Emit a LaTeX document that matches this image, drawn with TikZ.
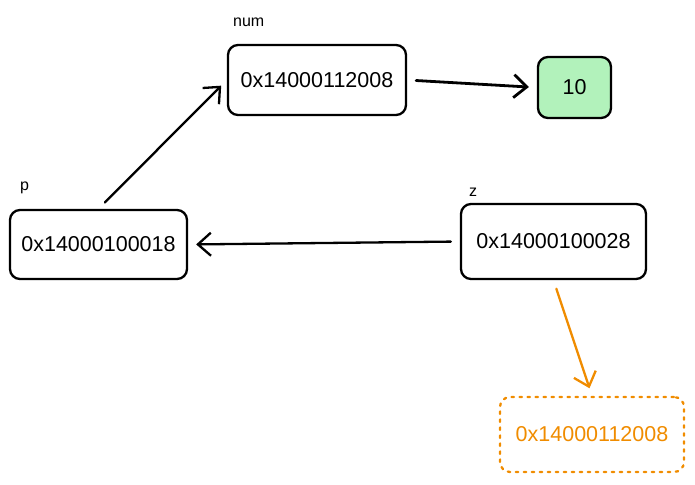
\documentclass[tikz,border=0pt]{standalone}
\usepackage{fontspec}
\setmainfont{Liberation Sans}
\usetikzlibrary{arrows.meta}
\definecolor{memgreen}{HTML}{B2F2BB}
\definecolor{memorange}{HTML}{F08C00}
\begin{document}
\begin{tikzpicture}[x=1pt, y=-1pt, line width=2.3pt, line cap=round,
   cell/.style={draw, rounded corners=10pt, inner sep=0pt, font=\fontsize{21.5}{24}\selectfont},
   tag/.style={anchor=base west, inner sep=0pt, font=\fontsize{16}{18}\selectfont},
   ptr/.style={-{Straight Barb[length=13pt, width=23pt]}, shorten <=9pt, shorten >=8pt}]
   \useasboundingbox (0,0) rectangle (695,484);
   \node[cell, minimum width=178pt, minimum height=70pt] (num) at (317,80)    {0x14000112008};
   \node[cell, minimum width=73pt,  minimum height=61pt, fill=memgreen] (ten) at (574.5,87.5) {10};
   \node[cell, minimum width=177pt, minimum height=69pt] (p)   at (98.5,244.5) {0x14000100018};
   \node[cell, minimum width=185pt, minimum height=75pt] (z)   at (553.5,241.5) {0x14000100028};
   \node[cell, minimum width=184pt, minimum height=75pt, memorange, dash pattern=on 2.5pt off 5.5pt] (copy) at (592,434.5) {0x14000112008};
   \node[tag] (numtag) at (232,27)  {num};
   \node[tag] (ptag)   at (19,190)  {p};
   \node[tag] (ztag)   at (468,196) {z};
   \draw[ptr] (p.north) -- (num.west);
   \draw[ptr, line width=2.8pt] (num.east) -- (ten.west);
   \draw[ptr] (z.west) -- (p.east);
   \draw[ptr, memorange] (z.south) -- (copy.north);
\end{tikzpicture}
\end{document}
